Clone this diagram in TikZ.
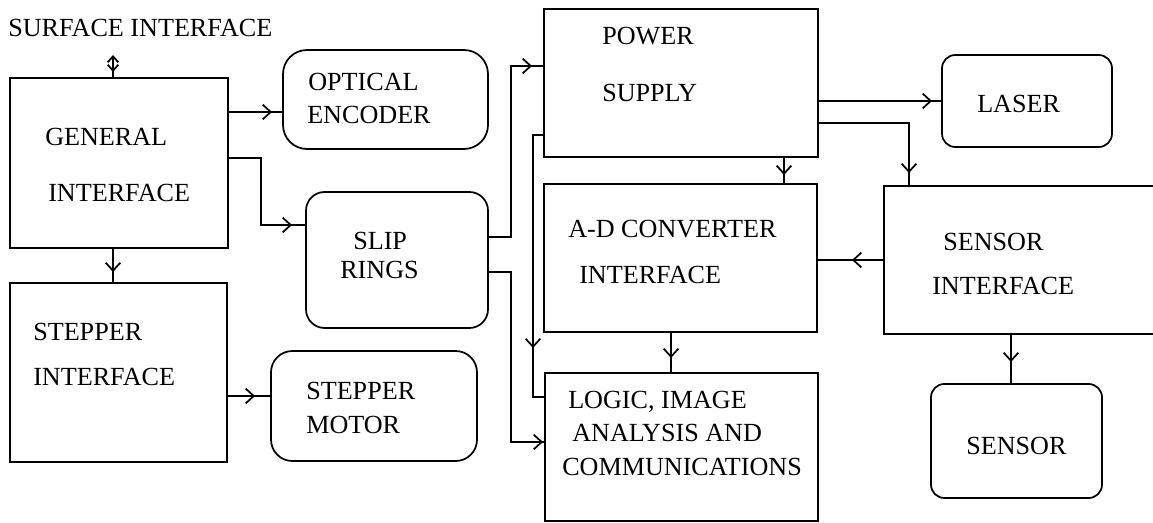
\documentclass[tikz,border=0pt]{standalone}
\usepackage{fontspec}
\setmainfont{Liberation Serif}
\usetikzlibrary{arrows.meta,decorations.markings,fit}

\tikzset{
  box/.style={draw, line width=1.3pt, inner sep=0pt, outer sep=0pt},
  rbox/.style={box, rounded corners=#1},
  lbl/.style={anchor=base west, inner sep=0pt, font=\fontsize{19.6}{22}\selectfont},
  conn/.style={line width=1.3pt},
  chev/.tip={Straight Barb[length=6pt,width=11pt]},
  chevsmall/.tip={Straight Barb[length=4.5pt,width=8pt]},
  tipat/.style={postaction={decorate, decoration={markings,
      mark=at position -#1 with {\arrow{chev}}}}},
  smalltipat/.style={postaction={decorate, decoration={markings,
      mark=at position -#1 with {\arrow{chevsmall}}}}}
}

\begin{document}
\begin{tikzpicture}[x=0.75pt,y=-0.75pt]
\useasboundingbox (0,0) rectangle (1153,523);
\clip (0,0) rectangle (1153,523);

% blocks
\node[box, fit={(10,78) (228,248)}] (gen) {};
\node[rbox=18pt, fit={(283,50) (488,149)}] (opt) {};
\node[rbox=14pt, fit={(306,192) (488,328)}] (slip) {};
\node[box, fit={(544,9) (818,157)}] (ps) {};
\node[rbox=10pt, fit={(942,55) (1112,147)}] (laser) {};
\node[box, fit={(544,184) (817,332)}] (ad) {};
\node[box, fit={(884,186) (1170,334)}] (si) {};
\node[rbox=10pt, fit={(931,384) (1102,498)}] (sensor) {};
\node[box, fit={(545,373) (818,521)}] (logic) {};
\node[box, fit={(10,283) (227,462)}] (stepi) {};
\node[rbox=16pt, fit={(271,351) (477,461)}] (motor) {};

% labels
\node[lbl] (tsurf) at (8,37) {SURFACE INTERFACE};
\node[lbl] (tgen1) at (45,146) {GENERAL};
\node[lbl] (tgen2) at (48,202) {INTERFACE};
\node[lbl] (topt1) at (308,90.5) {OPTICAL};
\node[lbl] (topt2) at (307,123.5) {ENCODER};
\node[lbl] (tslip1) at (353,249.5) {SLIP};
\node[lbl] (tslip2) at (340,278.5) {RINGS};
\node[lbl] (tps1) at (602,44.5) {POWER};
\node[lbl] (tps2) at (602,101.5) {SUPPLY};
\node[lbl] (tad1) at (568,237.5) {A-D CONVERTER};
\node[lbl] (tad2) at (579,283.5) {INTERFACE};
\node[lbl] (tlaser) at (977,112.5) {LASER};
\node[lbl] (tsi1) at (943,250.5) {SENSOR};
\node[lbl] (tsi2) at (932,294.5) {INTERFACE};
\node[lbl] (tsens) at (966,454.5) {SENSOR};
\node[lbl] (tst1) at (33,340.5) {STEPPER};
\node[lbl] (tst2) at (33,385.5) {INTERFACE};
\node[lbl] (tmot1) at (306,400) {STEPPER};
\node[lbl] (tmot2) at (306,434) {MOTOR};
\node[lbl] (tlog1) at (568,408.5) {LOGIC, IMAGE};
\node[lbl] (tlog2) at (572,441.5) {ANALYSIS AND};
\node[lbl] (tlog3) at (562,475.5) {COMMUNICATIONS};

% surface link
\coordinate (surf) at (113,55);
\draw[conn, {chevsmall}-, smalltipat=4.5pt] (surf) -- (gen.north -| surf);

% connectors
\draw[conn, tipat=8.25pt] (gen.east |- 0,112) -- (opt.west |- 0,112);
\draw[conn, tipat=10.5pt] (gen.east |- 0,158) -| (261,225) -- (slip.west |- 0,225);
\draw[conn, tipat=8.25pt] (gen.south -| surf) -- (stepi.north -| surf);
\draw[conn, tipat=12pt] (stepi.east |- 0,396) -- (motor.west |- 0,396);
\draw[conn, tipat=9pt] (slip.east |- 0,237) -| (511,66) -- (ps.west |- 0,66);
\draw[conn, tipat=1.5pt] (slip.east |- 0,272) -| (511,442) -- (logic.west |- 0,442);
\draw[conn, tipat=45.75pt] (ps.west |- 0,135) -| (533,397) -- (logic.west |- 0,397);
\draw[conn, tipat=6.75pt] (ps.south -| 784,0) -- (ad.north -| 784,0);
\draw[conn, tipat=7.5pt] (ps.east |- 0,101) -- (laser.west |- 0,101);
\draw[conn, tipat=9.75pt] (ps.east |- 0,123) -| (si.north -| 909,0);
\draw[conn, tipat=26.25pt] (si.west |- 0,260) -- (ad.east |- 0,260);
\draw[conn, tipat=16.5pt] (si.south -| 1011,0) -- (sensor.north -| 1011,0);
\draw[conn, tipat=11.25pt] (ad.south -| 671,0) -- (logic.north -| 671,0);
\end{tikzpicture}
\end{document}
